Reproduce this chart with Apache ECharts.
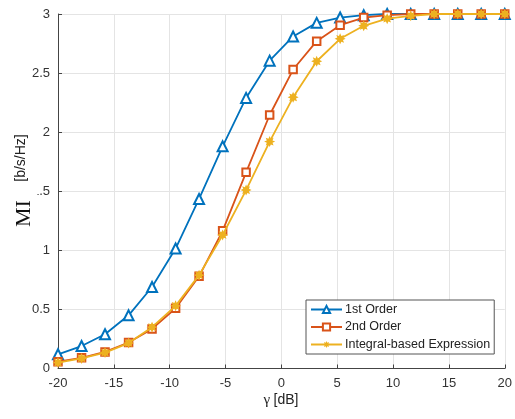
<!DOCTYPE html>
<html>
<head>
<meta charset="utf-8">
<script src="https://cdn.jsdelivr.net/npm/echarts@6/dist/echarts.min.js"></script>
<style>
html,body{margin:0;padding:0;background:#fff;}
#chart{width:515px;height:419px;}
</style>
</head>
<body>
<div id="chart"></div>
<script>
var gammaDb = [-20, -17.89, -15.79, -13.68, -11.58, -9.47, -7.37, -5.26, -3.16, -1.05,
               1.05, 3.16, 5.26, 7.37, 9.47, 11.58, 13.68, 15.79, 17.89, 20];
var firstOrder = [0.12, 0.19, 0.29, 0.45, 0.69, 1.015, 1.435, 1.88, 2.29, 2.605,
                  2.81, 2.925, 2.97, 2.99, 3.0, 3.0, 3.0, 3.0, 3.0, 3.0];
var secondOrder = [0.058, 0.09, 0.14, 0.22, 0.335, 0.51, 0.78, 1.165, 1.66, 2.145,
                   2.53, 2.77, 2.905, 2.97, 2.99, 3.0, 3.0, 3.0, 3.0, 3.0];
var integralBased = [0.05, 0.085, 0.135, 0.215, 0.35, 0.53, 0.79, 1.13, 1.51, 1.92,
                     2.295, 2.6, 2.79, 2.9, 2.96, 2.985, 3.0, 3.0, 3.0, 3.0];
var seriesNames = ['1st Order', '2nd Order', 'Integral-based Expression'];
var xTicks = {min: -20, max: 20, step: 5};
var yTicks = {min: 0, max: 3, step: 0.5};

function pairs(ys) { return gammaDb.map(function (x, i) { return [x, ys[i]]; }); }

var starPath = 'path://M5,0 L2.6,1.1 L3.54,3.54 L1.1,2.6 L0,5 L-1.1,2.6 L-3.54,3.54 L-2.6,1.1 L-5,0 L-2.6,-1.1 L-3.54,-3.54 L-1.1,-2.6 L0,-5 L1.1,-2.6 L3.54,-3.54 L2.6,-1.1 Z';
var sans = 'Liberation Sans, Arial, sans-serif';
var serif = 'Liberation Serif, Times New Roman, serif';

var chart = echarts.init(document.getElementById('chart'), null, {renderer: 'canvas'});
chart.setOption({
  backgroundColor: '#fff',
  animation: false,
  grid: {left: 58, right: 8, top: 14, bottom: 50.5},
  xAxis: {
    type: 'value', min: xTicks.min, max: xTicks.max, interval: xTicks.step,
    axisLine: {show: true, onZero: false, lineStyle: {color: '#444', width: 1}},
    axisTick: {show: true, inside: true, length: 4, lineStyle: {color: '#444'}},
    axisLabel: {color: '#333', fontSize: 13, fontFamily: sans, margin: 8},
    splitLine: {show: true, lineStyle: {color: '#e4e4e4', width: 1}}
  },
  yAxis: {
    type: 'value', min: yTicks.min, max: yTicks.max, interval: yTicks.step,
    axisLine: {show: true, onZero: false, lineStyle: {color: '#444', width: 1}},
    axisTick: {show: true, inside: true, length: 4, lineStyle: {color: '#444'}},
    axisLabel: {color: '#333', fontSize: 13, fontFamily: sans, margin: 8},
    splitLine: {show: true, lineStyle: {color: '#e4e4e4', width: 1}}
  },
  legend: {
    orient: 'vertical', left: 306, top: 300,
    backgroundColor: '#fff', borderColor: '#555', borderWidth: 1,
    padding: [3, 4, 3, 4], itemWidth: 31, itemHeight: 9, itemGap: 4.5,
    textStyle: {fontSize: 12.5, fontFamily: sans, color: '#222', padding: [0, 0, 0, -2]},
    data: seriesNames
  },
  series: [
    {name: seriesNames[0], type: 'line', data: pairs(firstOrder), z: 2,
     symbol: 'emptyTriangle', symbolSize: 10,
     lineStyle: {color: '#0072BD', width: 1.8},
     itemStyle: {color: '#0072BD', borderWidth: 1.5}},
    {name: seriesNames[1], type: 'line', data: pairs(secondOrder), z: 3,
     symbol: 'emptyRect', symbolSize: 7.5,
     lineStyle: {color: '#D95319', width: 1.8},
     itemStyle: {color: '#D95319', borderWidth: 1.5}},
    {name: seriesNames[2], type: 'line', data: pairs(integralBased), z: 4,
     symbol: starPath, symbolSize: 11,
     lineStyle: {color: '#EDB120', width: 1.8},
     itemStyle: {color: '#EDB120'}}
  ],
  graphic: [
    {type: 'text', x: 21, y: 158, rotation: Math.PI / 2, z: 100,
     style: {text: '[b/s/Hz]', font: '14px ' + sans, fill: '#222', align: 'center', verticalAlign: 'middle'}},
    {type: 'text', x: 24, y: 206.5, rotation: Math.PI / 2, z: 100,
     style: {text: 'MI', font: '22px ' + serif, fill: '#111', align: 'center', verticalAlign: 'middle',
             backgroundColor: '#fff', padding: [0, 14, 5, 0]}},
    {type: 'text', x: 281, y: 400, z: 100,
     style: {rich: {g: {font: '15px ' + serif, fill: '#222'}, u: {font: '14px ' + sans, fill: '#222'}},
             text: '{g|γ} {u|[dB]}', align: 'center', verticalAlign: 'middle'}}
  ]
});
</script>
</body>
</html>
